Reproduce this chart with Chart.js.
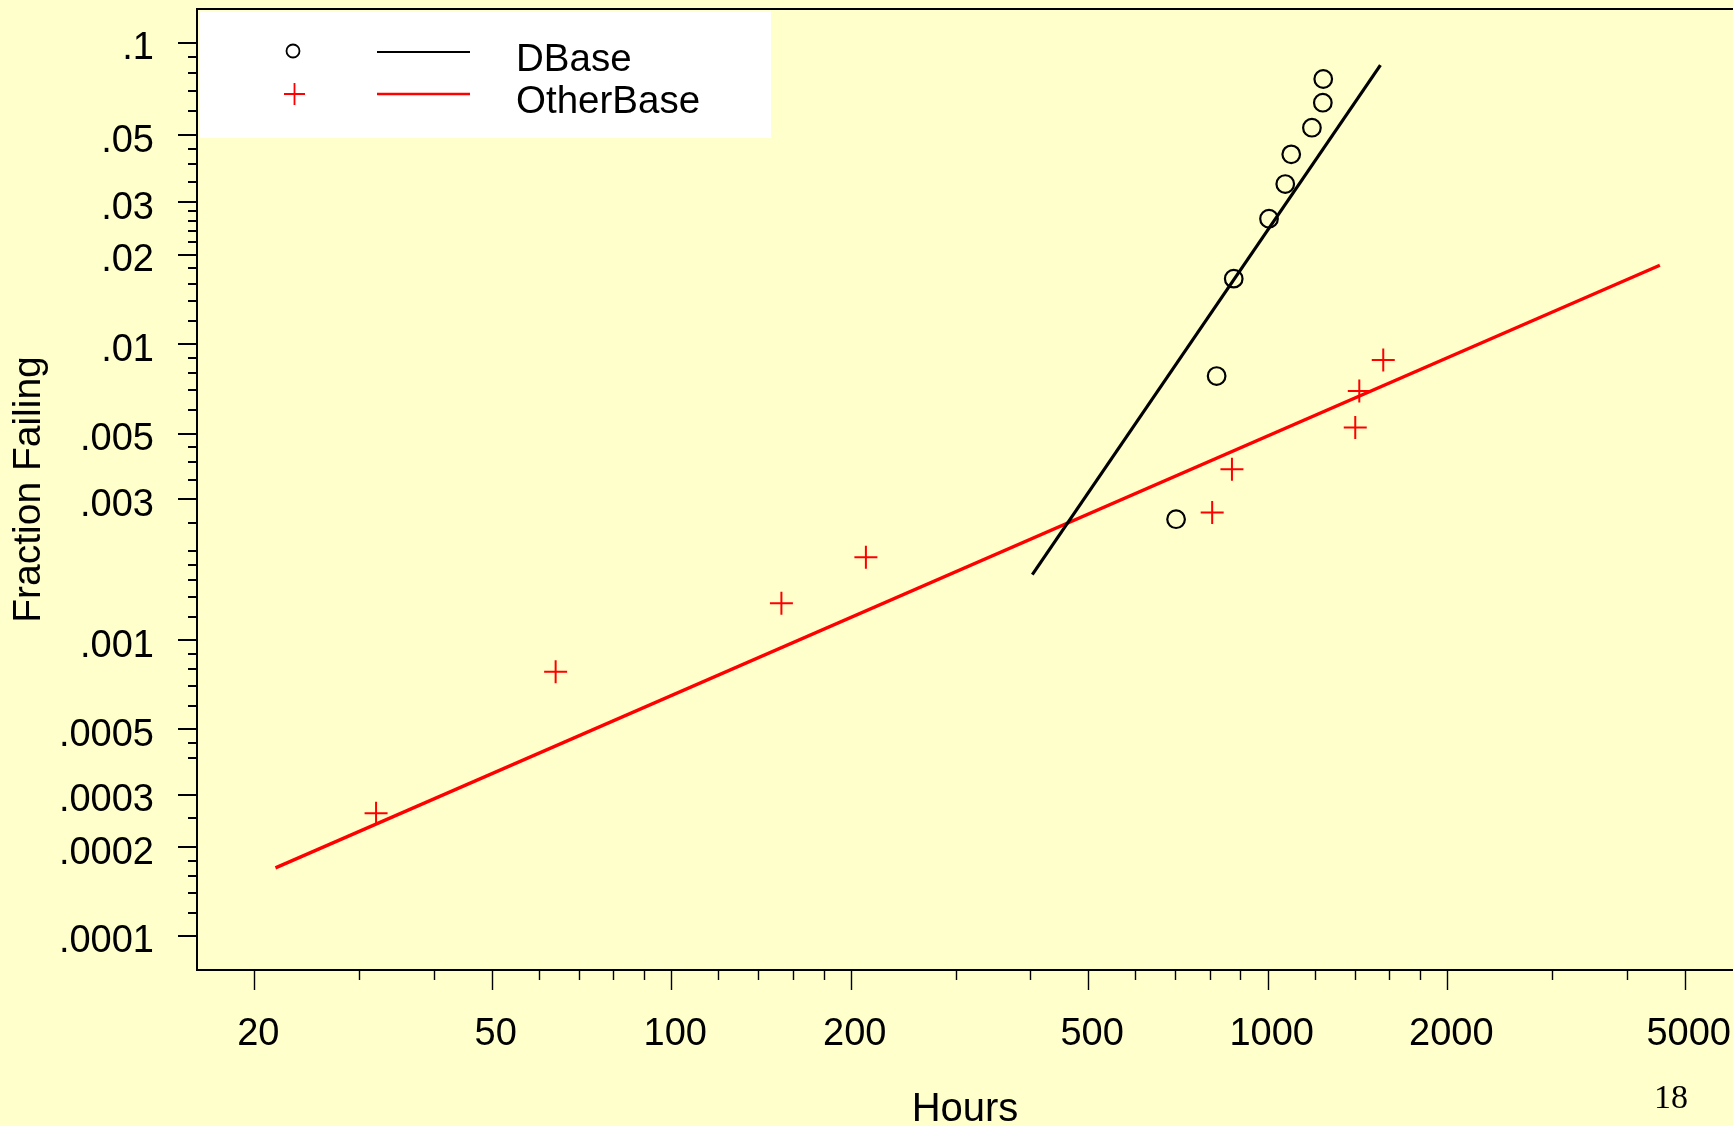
<!DOCTYPE html>
<html>
<head>
<meta charset="utf-8">
<title>Fraction Failing vs Hours</title>
<script src="https://cdn.jsdelivr.net/npm/chart.js@4.4.1/dist/chart.umd.min.js"></script>
<style>
  html, body { margin: 0; padding: 0; background: #ffffcc; }
  #wrap { width: 1733px; height: 1126px; position: relative; }
</style>
</head>
<body>
<div id="wrap"><canvas id="chart"></canvas></div>
<script>
// Series names
const seriesNames = ["DBase", "OtherBase"];

// Observed failures: hours and fraction failing
const dbaseHours = [702, 821, 877, 1005, 1070, 1095, 1186, 1237, 1239];
const dbaseFraction = [0.00257, 0.00782, 0.01663, 0.0264, 0.03445, 0.04322, 0.05292, 0.06393, 0.07639];
const otherHours = [32, 64, 153, 212, 807, 871, 1402, 1424, 1562];
const otherFraction = [0.00026, 0.000784, 0.001336, 0.001912, 0.00271, 0.00379, 0.00524, 0.00696, 0.00886];

// Fitted lines (end points)
const dbaseFitHours = [403, 1545];
const dbaseFitFraction = [0.00167, 0.0847];
const otherFitHours = [21.7, 4544];
const otherFitFraction = [0.00017, 0.01846];

// Tick marks
const xMajorTicks = [20, 50, 100, 200, 500, 1000, 2000, 5000];
const xMajorLabels = ["20", "50", "100", "200", "500", "1000", "2000", "5000"];
const xMinorTicks = [30, 40, 60, 70, 80, 90, 120, 140, 160, 180, 300, 400, 600, 700, 800, 900, 1200, 1400, 1600, 1800, 3000, 4000];
const yMajorTicks = [0.1, 0.05, 0.03, 0.02, 0.01, 0.005, 0.003, 0.001, 0.0005, 0.0003, 0.0002, 0.0001];
const yMajorLabels = [".1", ".05", ".03", ".02", ".01", ".005", ".003", ".001", ".0005", ".0003", ".0002", ".0001"];
const yMinorTicks = [0.09, 0.08, 0.07, 0.06, 0.045, 0.04, 0.035, 0.028, 0.026, 0.024, 0.022,
  0.018, 0.016, 0.014, 0.012, 0.009, 0.008, 0.007, 0.006, 0.0045, 0.004, 0.0035,
  0.0025, 0.002, 0.0018, 0.0016, 0.0014, 0.0012, 0.0009, 0.0008, 0.0007, 0.0006,
  0.00045, 0.0004, 0.00025, 0.00018, 0.00016, 0.00014, 0.00012];

// y axis is a Weibull probability scale: log(-ln(1 - F))
const weibull = (f) => -Math.log(1 - f);
const toPoints = (xs, fs) => xs.map((x, i) => ({ x, y: weibull(fs[i]) }));

const xTicks = xMajorTicks.concat(xMinorTicks).sort((a, b) => a - b);
const yTicks = yMajorTicks.concat(yMinorTicks).sort((a, b) => a - b);

Chart.defaults.font.family = '"Liberation Sans", Arial, Helvetica, sans-serif';
Chart.defaults.color = "#000";

// tick marks (long at labelled values) and the top frame line
const axisMarks = {
  id: "axisMarks",
  afterDraw(chart) {
    const { ctx, chartArea, scales } = chart;
    ctx.save();
    ctx.strokeStyle = "#000";
    ctx.lineWidth = 1.4;
    ctx.beginPath();
    xTicks.forEach((v) => {
      const px = Math.round(scales.x.getPixelForValue(v)) + 0.5;
      const len = xMajorTicks.includes(v) ? 20 : 10;
      ctx.moveTo(px, chartArea.bottom);
      ctx.lineTo(px, chartArea.bottom + len);
    });
    ctx.stroke();

    ctx.lineWidth = 2;
    ctx.beginPath();
    yTicks.forEach((v) => {
      const py = Math.round(scales.y.getPixelForValue(weibull(v)));
      const len = yMajorTicks.includes(v) ? 19 : 9;
      ctx.moveTo(chartArea.left, py);
      ctx.lineTo(chartArea.left - len, py);
    });
    ctx.stroke();

    ctx.beginPath();
    ctx.moveTo(chartArea.left, chartArea.top);
    ctx.lineTo(chartArea.right, chartArea.top);
    ctx.stroke();
    ctx.restore();
  },
};

// legend box: marker, line sample, name
const legendBox = {
  id: "legendBox",
  afterDraw(chart) {
    const { ctx } = chart;
    ctx.save();
    ctx.fillStyle = "#ffffff";
    ctx.fillRect(200, 12, 571, 126);

    // DBase
    ctx.strokeStyle = "#000";
    ctx.lineWidth = 1.8;
    ctx.beginPath();
    ctx.arc(293, 51, 6.5, 0, Math.PI * 2);
    ctx.stroke();
    ctx.lineWidth = 2;
    ctx.beginPath();
    ctx.moveTo(377, 52);
    ctx.lineTo(470, 52);
    ctx.stroke();

    // OtherBase
    ctx.strokeStyle = "#ff0000";
    ctx.lineWidth = 1.8;
    ctx.beginPath();
    ctx.moveTo(284, 94);
    ctx.lineTo(305, 94);
    ctx.moveTo(294.5, 83);
    ctx.lineTo(294.5, 105);
    ctx.stroke();
    ctx.lineWidth = 2.4;
    ctx.beginPath();
    ctx.moveTo(377, 94);
    ctx.lineTo(470, 94);
    ctx.stroke();

    ctx.fillStyle = "#000";
    ctx.font = '38.5px "Liberation Sans", Arial, sans-serif';
    ctx.textBaseline = "middle";
    ctx.fillText(seriesNames[0], 516, 60);
    ctx.fillText(seriesNames[1], 516, 102);

    // slide number
    ctx.font = '34px "Liberation Serif", "Times New Roman", serif';
    ctx.textAlign = "center";
    ctx.fillText("18", 1671, 1099);
    ctx.restore();
  },
};

new Chart(document.getElementById("chart"), {
  type: "scatter",
  data: {
    datasets: [
      {
        label: seriesNames[0] + " fit",
        data: toPoints(dbaseFitHours, dbaseFitFraction),
        showLine: true,
        borderColor: "#000",
        borderWidth: 3.2,
        pointRadius: 0,
      },
      {
        label: seriesNames[1] + " fit",
        data: toPoints(otherFitHours, otherFitFraction),
        showLine: true,
        borderColor: "#ff0000",
        borderWidth: 3.3,
        pointRadius: 0,
      },
      {
        label: seriesNames[0],
        data: toPoints(dbaseHours, dbaseFraction),
        pointStyle: "circle",
        pointRadius: 8.8,
        pointBorderWidth: 2.2,
        pointBorderColor: "#000",
        pointBackgroundColor: "rgba(0,0,0,0)",
      },
      {
        label: seriesNames[1],
        data: toPoints(otherHours, otherFraction),
        pointStyle: "cross",
        pointRadius: 11.5,
        pointBorderWidth: 2,
        pointBorderColor: "#ff0000",
        pointBackgroundColor: "#ff0000",
      },
    ],
  },
  options: {
    responsive: true,
    maintainAspectRatio: false,
    animation: false,
    events: [],
    layout: { autoPadding: false, padding: { top: 9, left: 0, right: 0, bottom: 0 } },
    plugins: { legend: { display: false }, tooltip: { enabled: false } },
    scales: {
      x: {
        type: "logarithmic",
        position: "bottom",
        min: 16.03,
        max: 6026,
        grid: { display: false, drawTicks: false },
        border: { display: true, color: "#000", width: 2 },
        afterBuildTicks: (scale) => {
          scale.ticks = xTicks.map((v) => ({ value: v }));
        },
        afterFit: (scale) => {
          scale.height = 156;
          scale.paddingLeft = 0;
          scale.paddingRight = 0;
        },
        ticks: {
          autoSkip: false,
          maxRotation: 0,
          padding: 42,
          labelOffset: 4,
          font: { size: 38 },
          callback: (v, i) => {
            const k = xMajorTicks.indexOf(xTicks[i]);
            return k >= 0 ? xMajorLabels[k] : "";
          },
        },
        title: {
          display: true,
          text: "Hours",
          font: { size: 40, lineHeight: 0.8 },
          padding: 0,
        },
      },
      y: {
        type: "logarithmic",
        position: "left",
        min: 7.672e-5,
        max: 0.13713,
        grid: { display: false, drawTicks: false },
        border: { display: true, color: "#000", width: 2 },
        afterBuildTicks: (scale) => {
          scale.ticks = yTicks.map((f) => ({ value: weibull(f) }));
        },
        afterFit: (scale) => {
          scale.width = 197;
          scale.paddingTop = 0;
          scale.paddingBottom = 0;
        },
        ticks: {
          autoSkip: false,
          padding: 43,
          labelOffset: 6,
          font: { size: 38 },
          callback: (v, i) => {
            const k = yMajorTicks.indexOf(yTicks[i]);
            return k >= 0 ? yMajorLabels[k] : "";
          },
        },
        title: {
          display: true,
          text: "Fraction Failing",
          font: { size: 39, lineHeight: 1 },
          padding: { top: 10, bottom: 0 },
        },
      },
    },
  },
  plugins: [axisMarks, legendBox],
});
</script>
</body>
</html>
